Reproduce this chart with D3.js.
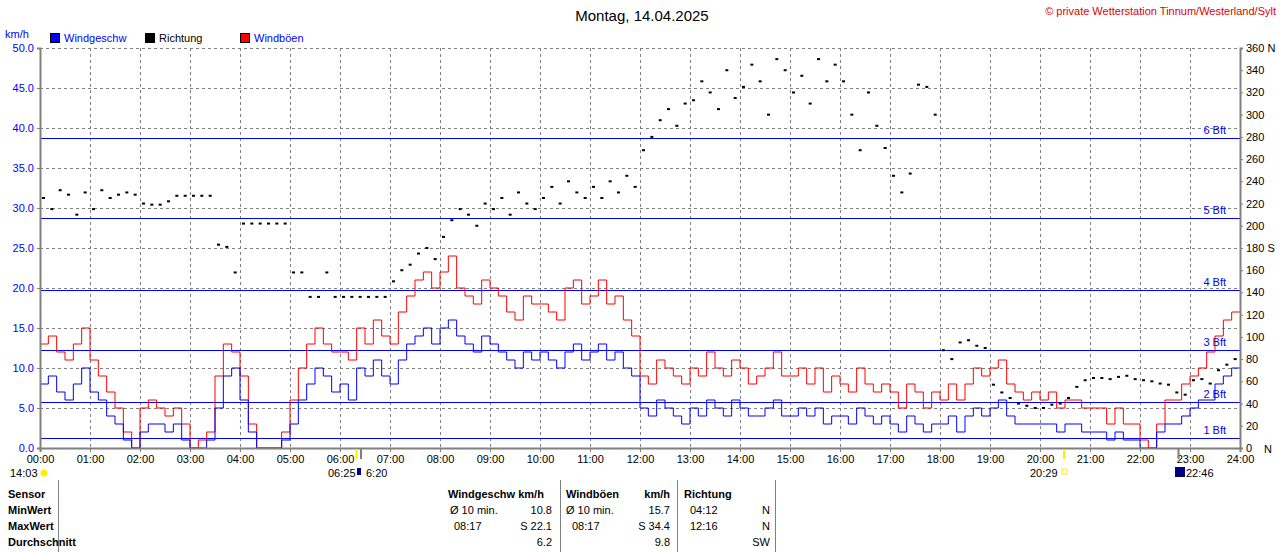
<!DOCTYPE html>
<html><head><meta charset="utf-8">
<script src="https://cdn.jsdelivr.net/npm/d3@7"></script>
<style>
body{margin:0;background:#fff;}
text{font-family:"Liberation Sans",Arial,sans-serif;font-size:12px;}
</style></head>
<body>
<svg id="chart" width="1280" height="552"></svg>
<script>
// 10-minute values, 00:00 .. 23:50
var speed = [
  8,9,7,6,8,10, 7,6,4,3,1,0, 2,3,3,2,3,1, 0,0,1,5,9,10, 6,2,0,0,0,1,
  3,6,8,10,9,7, 8,6,10,9,11,9, 8,11,13,14,15,13, 15,16,14,13,12,14, 13,12,11,10,12,11,
  12,11,10,12,13,11, 12,13,11,12,10,9, 5,4,6,5,4,3, 5,4,6,5,4,6, 5,4,4,5,6,4,
  4,5,4,5,3,4, 4,3,5,4,3,4, 3,2,4,3,2,3, 3,4,2,4,5,4, 5,6,4,3,3,3,
  3,3,2,3,3,2, 2,2,1,2,1,1, 0,0,2,3,3,4, 5,6,6,8,9,10
];
var gust = [
  13,14,12,11,13,15, 11,9,7,5,2,0, 5,6,5,4,5,3, 0,1,2,9,13,12, 9,3,0,0,0,2,
  6,10,13,15,13,12, 12,11,15,13,16,14, 13,17,19,21,22,20, 22,24,20,19,18,21, 20,19,17,16,19,18,
  18,17,16,20,21,18, 19,21,18,19,16,14, 9,8,11,10,9,8, 10,9,12,10,9,11, 10,8,9,10,12,9,
  9,10,8,10,7,9, 8,7,10,8,7,8, 7,5,8,7,5,7, 6,8,6,8,10,9, 10,11,8,7,6,7,
  6,7,5,6,6,5, 5,5,3,5,3,3, 1,0,3,6,6,8, 9,10,12,14,16,17
];
var direction = [
  225,215,232,228,210,230, 215,232,225,228,230,228, 220,219,219,222,227,227, 227,227,227,183,181,158, 202,202,202,202,202,202,
  158,158,136,136,158,136, 136,136,136,136,136,136, 150,160,165,175,180,170, 190,205,215,210,200,220, 215,225,210,230,220,215,
  225,235,220,240,230,225, 235,225,240,230,245,235, 268,280,295,305,290,310, 313,330,320,305,340,315, 325,345,330,300,350,340,
  320,335,310,350,330,345, 330,300,268,320,290,270, 245,230,247,327,325,300, 88,80,95,97,92,90, 57,50,45,40,38,36,
  36,39,40,45,55,61, 63,63,62,64,65,62, 61,60,58,57,50,48, 61,62,58,70,75,80
];
var leftTicks = d3.range(0, 50.1, 5);
var rightTicks = d3.range(0, 361, 20);
var hourTicks = d3.range(0, 25, 1);
var bft = [{v:1.25,l:"1 Bft"},{v:5.75,l:"2 Bft"},{v:12.25,l:"3 Bft"},{v:19.75,l:"4 Bft"},{v:28.75,l:"5 Bft"},{v:38.75,l:"6 Bft"}];

var svg = d3.select("#chart");
var x = d3.scaleLinear().domain([0, 24]).range([40, 1240]);
var y = d3.scaleLinear().domain([0, 50]).range([448, 48]);
var yr = d3.scaleLinear().domain([0, 360]).range([448, 48]);
var t = function(i){ return i / 6; };

svg.append("text").attr("x", 642).attr("y", 21).attr("text-anchor", "middle").style("font-size", "15px").text("Montag, 14.04.2025");
svg.append("text").attr("x", 1276).attr("y", 15).attr("text-anchor", "end").attr("fill", "#e00000").style("font-size", "11px").text("© private Wetterstation Tinnum/Westerland/Sylt");
svg.append("text").attr("x", 5).attr("y", 38).attr("fill", "#0000ff").style("font-size", "11px").text("km/h");

var legend = [{c:"#0000ff",l:"Windgeschw",x:50,tc:"#0000ff"},{c:"#000",l:"Richtung",x:145,tc:"#000"},{c:"#ff0000",l:"Windböen",x:240,tc:"#0000ff"}];
legend.forEach(function(d){
  svg.append("rect").attr("x", d.x+0.5).attr("y", 33.5).attr("width", 9).attr("height", 9).attr("fill", d.c).attr("stroke", "#000");
  svg.append("text").attr("x", d.x+14).attr("y", 42).attr("fill", d.tc).style("font-size", "11px").text(d.l);
});

// grid
svg.append("g").selectAll("line").data(leftTicks.slice(1)).enter().append("line")
  .attr("x1", 40).attr("x2", 1240).attr("y1", function(d){ return y(d)+0.5; }).attr("y2", function(d){ return y(d)+0.5; })
  .attr("stroke", "#808080").attr("stroke-dasharray", "3,3");
svg.append("g").selectAll("line").data(hourTicks.slice(1, 24)).enter().append("line")
  .attr("x1", function(d){ return x(d)+0.5; }).attr("x2", function(d){ return x(d)+0.5; }).attr("y1", 48).attr("y2", 448)
  .attr("stroke", "#808080").attr("stroke-dasharray", "3,3");

// beaufort lines
var bg = svg.append("g");
bg.selectAll("line").data(bft).enter().append("line")
  .attr("x1", 40).attr("x2", 1240).attr("y1", function(d){ return Math.round(y(d.v))+0.5; }).attr("y2", function(d){ return Math.round(y(d.v))+0.5; })
  .attr("stroke", "#0000ff");
bg.selectAll("text").data(bft).enter().append("text")
  .attr("x", 1226).attr("y", function(d){ return y(d.v)-4; }).attr("text-anchor", "end").attr("fill", "#0000ff").style("font-size", "11px").text(function(d){ return d.l; });

// series
var step = d3.line().x(function(d, i){ return x(t(i)); }).y(function(d){ return y(d); }).curve(d3.curveStepAfter);
svg.append("path").datum(gust.concat([gust[gust.length-1]])).attr("d", step).attr("fill", "none").attr("stroke", "#ff0000");
svg.append("path").datum(speed.concat([speed[speed.length-1]])).attr("d", step).attr("fill", "none").attr("stroke", "#0000ff");
svg.append("g").selectAll("rect").data(direction).enter().append("rect")
  .attr("x", function(d, i){ return x(t(i))+2; }).attr("y", function(d){ return yr(d)-1; }).attr("width", 3).attr("height", 2).attr("fill", "#000");

// axes
var axL = svg.append("g").attr("transform", "translate(40,0)").call(d3.axisLeft(y).tickValues(leftTicks).tickSize(3).tickFormat(d3.format(".1f")));
var axR = svg.append("g").attr("transform", "translate(1240,0)").call(d3.axisRight(yr).tickValues(rightTicks).tickSize(3)
  .tickFormat(function(d){ return d === 360 ? "360 N" : d === 180 ? "180 S" : d; }));
var axB = svg.append("g").attr("transform", "translate(0,448)").call(d3.axisBottom(x).tickValues(hourTicks).tickSize(4)
  .tickFormat(function(d){ return (d < 10 ? "0" : "") + d + ":00"; }));
[axL, axR, axB].forEach(function(a){
  a.select(".domain").attr("stroke", "#808080").attr("stroke-width", 2);
  a.selectAll(".tick line").attr("stroke", "#808080");
  a.selectAll("text").style("font-family", "Liberation Sans, Arial, sans-serif").style("font-size", "11px");
});
axL.selectAll("text").attr("fill", "#0000ff");
axR.selectAll("text").attr("fill", "#000");
axB.selectAll("text").attr("fill", "#000");
svg.append("text").attr("x", 1264).attr("y", 453).style("font-size", "11px").text("N");

// sun / moon markers
var marks = [{h:6.42,c:"#808080"},{h:6.33,c:"#ffee00"},{h:20.48,c:"#ffee00"},{h:22.77,c:"#808080"}];
marks.forEach(function(m){
  svg.append("line").attr("x1", x(m.h)).attr("x2", x(m.h)).attr("y1", 449).attr("y2", 459).attr("stroke", m.c).attr("stroke-width", 2);
});
var sunTexts = [{x:10,t:"14:03"},{x:328,t:"06:25"},{x:366,t:"6:20"},{x:1030,t:"20:29"},{x:1186,t:"22:46"}];
sunTexts.forEach(function(s){ svg.append("text").attr("x", s.x).attr("y", 477).style("font-size", "11px").text(s.t); });
svg.append("circle").attr("cx", 44).attr("cy", 473).attr("r", 3.5).attr("fill", "#ffee00");
svg.append("rect").attr("x", 357).attr("y", 468).attr("width", 4).attr("height", 7).attr("fill", "#000080");
svg.append("rect").attr("x", 1062).attr("y", 469).attr("width", 5).attr("height", 5).attr("fill", "none").attr("stroke", "#ffee00");
svg.append("rect").attr("x", 1175).attr("y", 467).attr("width", 10).attr("height", 10).attr("fill", "#000080");

// table
[58, 560, 677, 775].forEach(function(vx){
  svg.append("line").attr("x1", vx+0.5).attr("x2", vx+0.5).attr("y1", 480).attr("y2", 552).attr("stroke", "#808080");
});
var rows = ["Sensor", "MinWert", "MaxWert", "Durchschnitt"];
rows.forEach(function(r, i){
  svg.append("text").attr("x", 8).attr("y", 498 + i*16).style("font-weight", "bold").style("font-size", "11px").text(r);
});
var cells = [
  {x:448,y:498,t:"Windgeschw km/h",b:1},{x:566,y:498,t:"Windböen",b:1},{x:670,y:498,t:"km/h",b:1,a:"end"},{x:684,y:498,t:"Richtung",b:1},
  {x:450,y:514,t:"Ø 10 min."},{x:552,y:514,t:"10.8",a:"end"},{x:566,y:514,t:"Ø 10 min."},{x:670,y:514,t:"15.7",a:"end"},{x:690,y:514,t:"04:12"},{x:770,y:514,t:"N",a:"end"},
  {x:454,y:530,t:"08:17"},{x:552,y:530,t:"S 22.1",a:"end"},{x:572,y:530,t:"08:17"},{x:670,y:530,t:"S 34.4",a:"end"},{x:690,y:530,t:"12:16"},{x:770,y:530,t:"N",a:"end"},
  {x:552,y:546,t:"6.2",a:"end"},{x:670,y:546,t:"9.8",a:"end"},{x:770,y:546,t:"SW",a:"end"}
];
cells.forEach(function(c){
  svg.append("text").attr("x", c.x).attr("y", c.y).attr("text-anchor", c.a || "start")
    .style("font-weight", c.b ? "bold" : "normal").style("font-size", "11px").text(c.t);
});
</script>
</body></html>
